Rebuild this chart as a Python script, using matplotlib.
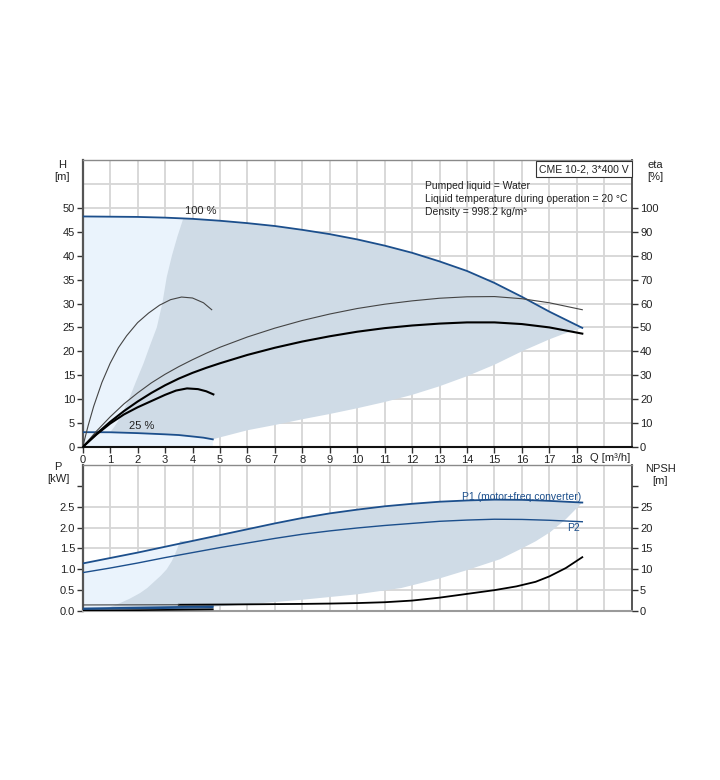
import matplotlib
matplotlib.use("Agg")
import matplotlib.pyplot as plt

plt.rcParams['font.family'] = ['Liberation Sans', 'DejaVu Sans']
plt.rcParams['font.size'] = 8

# ---- data ----
# head curves (Q in m3/h, H in m)
q_100 = [0, 1, 2, 3, 4, 5, 6, 7, 8, 9, 10, 11, 12, 13, 14, 15, 16, 17, 18.2]
h_100 = [48.2, 48.15, 48.1, 47.95, 47.7, 47.3, 46.8, 46.2, 45.4, 44.5, 43.4,
         42.1, 40.6, 38.8, 36.8, 34.3, 31.4, 28.3, 24.9]
q_25 = [0, 1, 2, 3, 3.5, 4, 4.4, 4.74]
h_25 = [3.1, 3.08, 2.9, 2.65, 2.5, 2.2, 1.95, 1.6]

# efficiency curves (eta in %)
q_eta_lo = [0, 0.2, 0.4, 0.7, 1.0, 1.3, 1.6, 2.0, 2.4, 2.8, 3.2, 3.6, 4.0, 4.4, 4.7]
eta_lo = [0, 9, 17, 27, 35, 41.5, 46.5, 52, 56, 59.3, 61.6, 62.7, 62.3, 60.3, 57.4]
q_etat_lo = [0, 0.5, 1.0, 1.5, 2.0, 2.5, 3.0, 3.4, 3.8, 4.2, 4.5, 4.76]
etat_lo = [0, 5.2, 9.8, 13.6, 16.6, 19.2, 21.8, 23.6, 24.5, 24.2, 23.3, 22.0]
q_eta_hi = [0, 0.5, 1, 1.5, 2, 2.5, 3, 3.5, 4, 4.5, 5, 6, 7, 8, 9, 10, 11, 12,
            13, 14, 15, 16, 17, 18.2]
eta_hi = [0, 6.6, 12.6, 18, 22.6, 26.8, 30.4, 33.6, 36.5, 39.2, 41.7, 46, 49.7,
          52.9, 55.6, 57.9, 59.7, 61.1, 62.2, 62.8, 62.9, 62.0, 60.3, 57.4]
q_etat_hi = q_eta_hi
etat_hi = [0, 5.5, 10.5, 15, 19, 22.6, 25.8, 28.6, 31.0, 33.1, 35.0, 38.5, 41.5,
           44.1, 46.3, 48.2, 49.7, 50.8, 51.6, 52.1, 52.1, 51.4, 50.0, 47.4]

# operating area (head)
area_left_q = [1.0, 1.15, 1.3, 1.5, 1.72, 1.95, 2.21, 2.45, 2.7, 2.9, 3.06, 3.25, 3.45, 3.66]
area_left_h = [3.08, 4.2, 5.5, 7.8, 10.5, 13.8, 17.4, 21.2, 25, 30, 35.5, 40, 44, 47.7]
area_low_q = [18.2, 17.5, 17, 16, 15, 14, 13, 12, 11, 10, 9, 8, 7, 6, 5.06, 4.74]
area_low_h = [24.9, 23.6, 22.5, 20.0, 17.2, 14.8, 12.7, 10.9, 9.4, 8.1, 6.9, 5.8,
              4.6, 3.5, 2.1, 1.6]

# power curves (kW)
q_p = [0, 1, 2, 3, 4, 5, 6, 7, 8, 9, 10, 11, 12, 13, 14, 15, 16, 17, 18.2]
p1 = [1.14, 1.27, 1.40, 1.54, 1.68, 1.82, 1.96, 2.10, 2.23, 2.34, 2.43, 2.51,
      2.57, 2.62, 2.65, 2.67, 2.665, 2.64, 2.60]
p2 = [0.92, 1.03, 1.15, 1.28, 1.40, 1.52, 1.63, 1.74, 1.84, 1.92, 1.99, 2.05,
      2.10, 2.15, 2.18, 2.20, 2.195, 2.175, 2.14]
q_p_lo = [0, 4.74]
p1_lo = [0.06, 0.11]
p2_lo = [0.04, 0.08]

# NPSH (m)
q_npsh = [3.5, 5, 6, 7, 8, 9, 10, 11, 12, 13, 14, 15, 15.8, 16.5, 17, 17.6, 18.2]
npsh = [1.5, 1.55, 1.6, 1.65, 1.7, 1.78, 1.9, 2.1, 2.5, 3.2, 4.1, 5.0, 5.9, 7.0,
        8.3, 10.3, 12.9]
q_npsh_lo = [0, 3.5]
npsh_lo = [1.45, 1.5]
npsh_lo2 = [0.05, 0.4]

# operating area (power)
parea_left_q = [0.87, 1.1, 1.36, 1.7, 2.09, 2.35, 2.6, 2.85, 3.06, 3.25, 3.4, 3.55]
parea_left_p = [0.07, 0.12, 0.19, 0.29, 0.43, 0.55, 0.7, 0.85, 1.0, 1.2, 1.42, 1.68]
parea_low_q = [18.2, 17.6, 17.03, 16.5, 16, 15.2, 14, 13, 11.6, 10, 8, 6, 4.7]
parea_low_p = [2.6, 2.2, 1.89, 1.67, 1.5, 1.24, 0.98, 0.78, 0.55, 0.4, 0.27, 0.16, 0.1]

x_ticks = list(range(0, 19))
h_ticks = list(range(0, 51, 5))
eta_ticks = list(range(0, 101, 10))
p_ticks = [0.0, 0.5, 1.0, 1.5, 2.0, 2.5, 3.0]
p_labels = ['0.0', '0.5', '1.0', '1.5', '2.0', '2.5', '']
npsh_ticks = [0, 5, 10, 15, 20, 25, 30]
npsh_labels = ['0', '5', '10', '15', '20', '25', '']
info_lines = ['Pumped liquid = Water',
              'Liquid temperature during operation = 20 \u00b0C',
              'Density = 998.2 kg/m\u00b3']

blue = '#1c4f8c'
light = '#eaf3fc'
dark = '#cfdbe6'
grid = '#d6d6d6'
txt = '#222222'

fig = plt.figure(figsize=(7.2, 7.8), dpi=100)
ax1 = fig.add_axes([82.7 / 720, 333 / 780, 549 / 720, 287 / 780])
ax2 = fig.add_axes([82.7 / 720, 169 / 780, 549 / 720, 146 / 780])


def style(ax, bottom_col):
    ax.set_xlim(0, 20)
    ax.set_axisbelow(True)
    for x in range(1, 20):
        ax.axvline(x, color=grid, lw=1.3, zorder=0)
    ax.spines['left'].set_color('#555555')
    ax.spines['left'].set_linewidth(1.6)
    ax.spines['right'].set_color('#555555')
    ax.spines['right'].set_linewidth(1.4)
    ax.spines['top'].set_color('#8a8a8a')
    ax.spines['top'].set_linewidth(1.0)
    ax.spines['bottom'].set_color(bottom_col)
    ax.spines['bottom'].set_linewidth(1.5)
    ax.tick_params(direction='out', length=4, width=1, colors='#333333',
                   labelcolor=txt, labelsize=8, pad=1.5)


# ---------------- head / efficiency panel ----------------
style(ax1, '#111111')
ax1.set_ylim(0, 60)
for y in range(5, 60, 5):
    ax1.axhline(y, color=grid, lw=1.3, zorder=0)

# light area: whole speed range at small flow
lq = [0] + [q for q in q_100 if q <= 4] + [4.74, 4.74]
lh = [0] + [h for q, h in zip(q_100, h_100) if q <= 4] + [47.5, 0]
ax1.fill(lq, lh, color=light, lw=0, zorder=1)

# darker recommended area
top_q = [q for q in q_100 if q > 3.66]
top_h = [h for q, h in zip(q_100, h_100) if q > 3.66]
back_q = [q for q in reversed(q_25) if 1.0 < q < 4.74]
back_h = [h for q, h in zip(reversed(q_25), reversed(h_25)) if 1.0 < q < 4.74]
ax1.fill(area_left_q + top_q + area_low_q + back_q,
         area_left_h + top_h + area_low_h + back_h, color=dark, lw=0, zorder=2)

ax1.plot(q_100, h_100, color=blue, lw=1.3, zorder=5)
ax1.plot(q_25, h_25, color=blue, lw=1.3, zorder=5)

ax1.set_xticks(x_ticks)
ax1.set_xticklabels([str(x) for x in x_ticks])
ax1.set_yticks(h_ticks)

eta = ax1.twinx()
eta.set_ylim(0, 120)
eta.set_yticks(eta_ticks)
eta.tick_params(direction='out', length=4, width=1, colors='#333333',
                labelcolor=txt, labelsize=8, pad=2)
for s in eta.spines.values():
    s.set_visible(False)
eta.plot(q_eta_lo, eta_lo, color='#444444', lw=0.8, zorder=6)
eta.plot(q_eta_hi, eta_hi, color='#444444', lw=0.8, zorder=6)
eta.plot(q_etat_lo, etat_lo, color='black', lw=1.5, zorder=6)
eta.plot(q_etat_hi, etat_hi, color='black', lw=1.5, zorder=6)

ax1.text(4.3, 49.4, '100 %', ha='center', va='center', color=txt, fontsize=8, zorder=7)
ax1.text(2.15, 4.3, '25 %', ha='center', va='center', color=txt, fontsize=8, zorder=7)
ax1.text(19.2, -2.3, 'Q [m\u00b3/h]', ha='center', va='center', color=txt, fontsize=8,
         clip_on=False)
ax1.text(-0.75, 57.7, 'H\n[m]', ha='center', va='center', color=txt, fontsize=8,
         linespacing=1.25, clip_on=False)
ax1.text(20.85, 57.7, 'eta\n[%]', ha='center', va='center', color=txt, fontsize=8,
         linespacing=1.25, clip_on=False)
ax1.text(19.9, 58.1, 'CME 10-2, 3*400 V', ha='right', va='center', color=txt,
         fontsize=7.5, zorder=8,
         bbox=dict(boxstyle='square,pad=0.3', fc='white', ec='#333333', lw=0.8))
for i, line in enumerate(info_lines):
    ax1.text(12.47, 54.58 - i * 2.71, line, ha='left', va='center', color=txt,
             fontsize=7.5, zorder=8)

# ---------------- power / NPSH panel ----------------
style(ax2, '#9a9a9a')
ax2.set_ylim(0, 3.5)
for y in [0.5, 1.0, 1.5, 2.0, 2.5]:
    ax2.axhline(y, color=grid, lw=1.3, zorder=0)

plq = [0] + [q for q in q_p if q <= 4] + [4.74, 4.74]
plp = [0] + [p for q, p in zip(q_p, p1) if q <= 4] + [1.78, 0]
ax2.fill(plq, plp, color=light, lw=0, zorder=1)

ptop_q = [q for q in q_p if q > 3.55]
ptop_p = [p for q, p in zip(q_p, p1) if q > 3.55]
ax2.fill(parea_left_q + ptop_q + parea_low_q, parea_left_p + ptop_p + parea_low_p,
         color=dark, lw=0, zorder=2)

ax2.plot(q_p, p1, color=blue, lw=1.3, zorder=5)
ax2.plot(q_p, p2, color=blue, lw=1.0, zorder=5)
ax2.plot(q_p_lo, p1_lo, color=blue, lw=1.3, zorder=5)
ax2.plot(q_p_lo, p2_lo, color=blue, lw=1.0, zorder=5)

ax2.set_xticks(x_ticks)
ax2.set_xticklabels([])
ax2.tick_params(axis='x', length=0)
ax2.set_yticks(p_ticks)
ax2.set_yticklabels(p_labels)

nps = ax2.twinx()
nps.set_ylim(0, 35)
nps.set_yticks(npsh_ticks)
nps.set_yticklabels(npsh_labels)
nps.tick_params(direction='out', length=4, width=1, colors='#333333',
                labelcolor=txt, labelsize=8, pad=2)
for s in nps.spines.values():
    s.set_visible(False)
nps.plot(q_npsh, npsh, color='black', lw=1.3, zorder=6)
nps.plot(q_npsh_lo, npsh_lo, color='#444444', lw=0.8, zorder=6)
nps.plot(q_p_lo, npsh_lo2, color='black', lw=1.2, zorder=6)

ax2.text(18.15, 2.74, 'P1 (motor+freq.converter)', ha='right', va='center', color=blue,
         fontsize=7.5, zorder=8)
ax2.text(18.1, 1.99, 'P2', ha='right', va='center', color=blue, fontsize=7.5, zorder=8)
ax2.text(-0.9, 3.31, 'P\n[kW]', ha='center', va='center', color=txt, fontsize=8,
         linespacing=1.25, clip_on=False)
ax2.text(21.04, 3.25, 'NPSH\n[m]', ha='center', va='center', color=txt, fontsize=8,
         linespacing=1.25, clip_on=False)

fig.savefig('out.png', dpi=100, facecolor='white')
